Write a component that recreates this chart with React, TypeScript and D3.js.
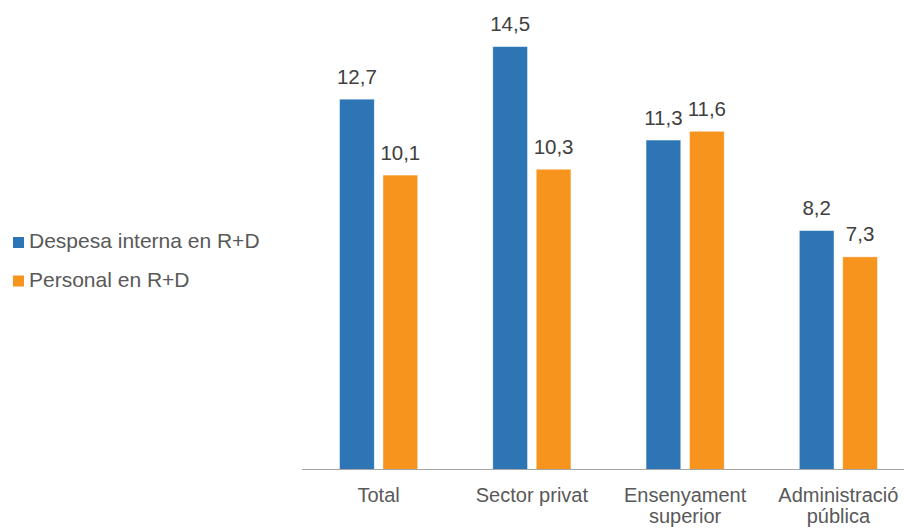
import React, { useEffect, useRef } from "react";
import * as d3 from "d3";

const categories = ["Total", "Sector privat", "Ensenyament superior", "Administració pública"];
const categoryLines = [["Total"], ["Sector privat"], ["Ensenyament", "superior"], ["Administració", "pública"]];
const seriesNames = ["Despesa interna en R+D", "Personal en R+D"];
const despesa = [12.7, 14.5, 11.3, 8.2];
const personal = [10.1, 10.3, 11.6, 7.3];
const seriesColors = ["#2E75B6", "#F7941E"];

const W = 904;
const H = 529;
const FONT = "'Liberation Sans', Arial, sans-serif";

export default function App() {
  const ref = useRef<SVGSVGElement | null>(null);

  useEffect(() => {
    const svg = d3.select(ref.current);
    svg.selectAll("*").remove();

    const baseY = 470;
    const x = d3.scaleBand<string>().domain(categories).range([302, 915]).paddingInner(0.49).paddingOuter(0.245);
    const xi = d3.scaleBand<string>().domain(seriesNames).range([0, x.bandwidth()]).paddingInner(0.2);
    const y = d3.scaleLinear().domain([0, 16]).range([baseY, baseY - 16 * 29.2]);

    const series = [despesa, personal];

    series.forEach((vals, si) => {
      svg
        .append("g")
        .selectAll("rect")
        .data(vals)
        .join("rect")
        .attr("x", (_d, i) => (x(categories[i]) as number) + (xi(seriesNames[si]) as number))
        .attr("y", (d) => y(d))
        .attr("width", xi.bandwidth())
        .attr("height", (d) => baseY - y(d))
        .attr("fill", seriesColors[si])
        .attr("stroke", "rgba(255,255,255,0.6)")
        .attr("stroke-width", 0.75);

      svg
        .append("g")
        .selectAll("text")
        .data(vals)
        .join("text")
        .attr("x", (_d, i) => (x(categories[i]) as number) + (xi(seriesNames[si]) as number) + xi.bandwidth() / 2)
        .attr("y", (d) => y(d) - 15.5)
        .attr("text-anchor", "middle")
        .attr("font-family", FONT)
        .attr("font-size", 20.5)
        .attr("fill", "#404040")
        .text((d) => d3.format(".1f")(d).replace(".", ","));
    });

    svg
      .append("line")
      .attr("x1", x.range()[0])
      .attr("x2", x.range()[1])
      .attr("y1", baseY - 0.5)
      .attr("y2", baseY - 0.5)
      .attr("stroke", "#A6A6A6")
      .attr("stroke-width", 1);

    const labelG = svg.append("g");
    categories.forEach((c, i) => {
      const cx = (x(c) as number) + x.bandwidth() / 2;
      const t = labelG
        .append("text")
        .attr("x", cx)
        .attr("y", 502)
        .attr("text-anchor", "middle")
        .attr("font-family", FONT)
        .attr("font-size", 20)
        .attr("fill", "#595959");
      categoryLines[i].forEach((ln, li) => {
        t.append("tspan").attr("x", cx).attr("dy", li === 0 ? 0 : 20.5).text(ln);
      });
      const node = t.node() as SVGTextElement;
      const bb = node.getBBox();
      const overflow = bb.x + bb.width - (W - 5);
      if (overflow > 0) {
        t.attr("transform", `translate(${-overflow},0)`);
      }
    });

    const leg = svg.append("g");
    seriesNames.forEach((s, i) => {
      const yy = 248 + i * 38.5;
      leg
        .append("rect")
        .attr("x", 13)
        .attr("y", yy - 11)
        .attr("width", 11)
        .attr("height", 11)
        .attr("fill", seriesColors[i]);
      leg
        .append("text")
        .attr("x", 29)
        .attr("y", yy)
        .attr("font-family", FONT)
        .attr("font-size", 21)
        .attr("fill", "#595959")
        .text(s);
    });
  }, []);

  return (
    <svg
      ref={ref}
      width={W}
      height={H}
      style={{ position: "absolute", left: 0, top: 0, background: "#fff" }}
    />
  );
}
